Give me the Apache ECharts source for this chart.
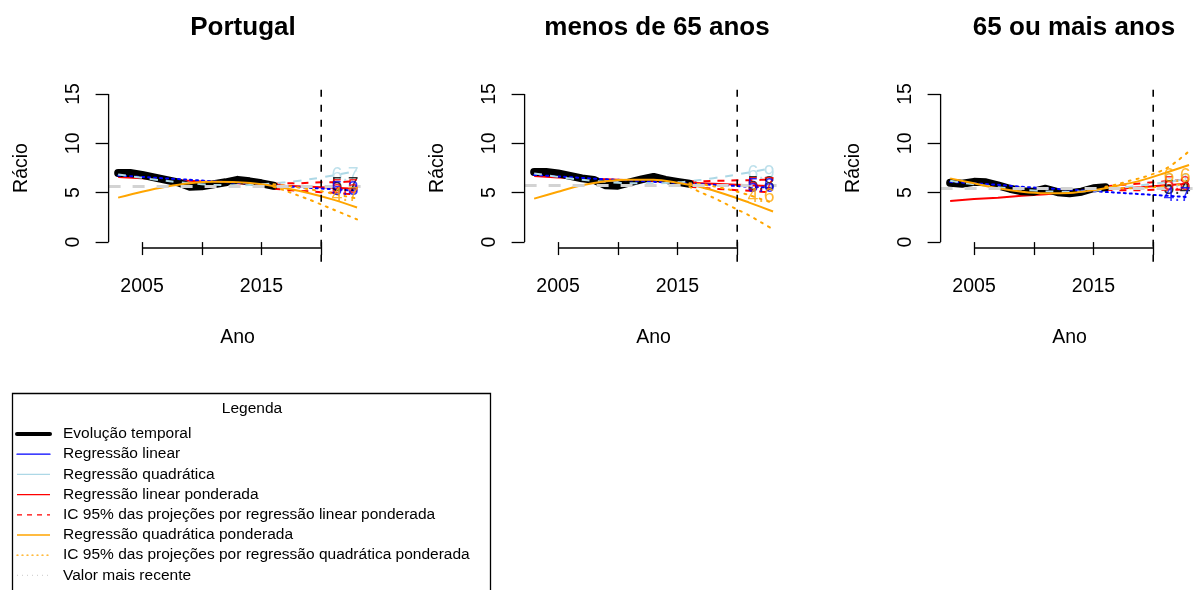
<!DOCTYPE html>
<html>
<head>
<meta charset="utf-8">
<title>Rácio</title>
<script src="https://cdn.jsdelivr.net/npm/echarts@6.0.0/dist/echarts.min.js"></script>
<style>
html, body { margin: 0; padding: 0; background: #fff; }
#echarts { width: 1193px; height: 590px; }
</style>
</head>
<body>
<div id="echarts"></div>
<script>
// valores
var titulos = ['Portugal', 'menos de 65 anos', '65 ou mais anos'];

var anos = [2003, 2004, 2005, 2006, 2007, 2008, 2009, 2010, 2011, 2012, 2013, 2014, 2015, 2016];
var evolPT     = [7.0, 7.0, 6.8, 6.55, 6.3, 6.05, 5.6, 5.65, 5.85, 6.05, 6.3, 6.15, 5.95, 5.7];
var evolMenos65 = [7.1, 7.1, 6.95, 6.7, 6.45, 6.3, 5.75, 5.7, 6.05, 6.35, 6.6, 6.3, 6.1, 5.9];
var evol65     = [6.0, 5.9, 6.1, 6.05, 5.75, 5.4, 5.15, 5.1, 5.4, 5.05, 4.95, 5.1, 5.45, 5.55];

// ajustes (a cada 2 anos)
var anosAjuste = [2003, 2005, 2007, 2009, 2011, 2013, 2015, 2017, 2019, 2021, 2023];
var linPT       = [6.75, 6.6, 6.45, 6.3, 6.15, 6.0, 5.85, 5.65, 5.5, 5.35, 5.2];
var quadPT      = [6.85, 6.5, 6.2, 5.95, 5.8, 5.75, 5.85, 6.05, 6.35, 6.75, 7.2];
var linPondPT   = [6.6, 6.45, 6.3, 6.2, 6.05, 5.95, 5.85, 5.7, 5.6, 5.5, 5.4];
var quadPondPT  = [4.5, 5.1, 5.6, 5.95, 6.1, 6.05, 5.85, 5.45, 4.95, 4.3, 3.5];

var linM65      = [6.8, 6.65, 6.5, 6.35, 6.25, 6.1, 6.0, 5.85, 5.75, 5.6, 5.5];
var quadM65     = [6.95, 6.6, 6.3, 6.1, 5.95, 5.95, 6.05, 6.3, 6.65, 7.05, 7.5];
var linPondM65  = [6.7, 6.55, 6.45, 6.35, 6.25, 6.15, 6.05, 5.95, 5.85, 5.75, 5.65];
var quadPondM65 = [4.4, 5.1, 5.75, 6.15, 6.3, 6.3, 6.0, 5.55, 4.85, 4.0, 3.1];

var lin65       = [6.1, 5.95, 5.8, 5.6, 5.45, 5.3, 5.15, 5.0, 4.85, 4.7, 4.55];
var quad65      = [6.2, 5.85, 5.55, 5.3, 5.15, 5.1, 5.2, 5.45, 5.75, 6.05, 6.45];
var linPond65   = [4.15, 4.35, 4.5, 4.7, 4.85, 5.05, 5.2, 5.4, 5.55, 5.75, 5.9];
var quadPond65  = [6.45, 5.95, 5.45, 5.1, 4.95, 4.97, 5.25, 5.7, 6.25, 7.0, 7.8];

// intervalos de confianca das projecoes
var anosProj = [2016, 2017, 2018, 2019, 2020, 2021, 2022, 2023];
var icLinSupPT  = [5.9, 5.95, 5.95, 6.0, 6.05, 6.05, 6.1, 6.15];
var icLinInfPT  = [5.4, 5.3, 5.2, 5.15, 5.05, 5.0, 4.9, 4.85];
var icQuadSupPT = [5.85, 5.7, 5.55, 5.35, 5.15, 4.9, 4.65, 4.4];
var icQuadInfPT = [5.6, 5.2, 4.75, 4.3, 3.8, 3.3, 2.8, 2.3];

var icLinSupM65  = [6.15, 6.15, 6.2, 6.2, 6.25, 6.25, 6.3, 6.3];
var icLinInfM65  = [5.6, 5.5, 5.4, 5.35, 5.25, 5.2, 5.1, 5.05];
var icQuadSupM65 = [5.95, 5.85, 5.65, 5.4, 5.1, 4.75, 4.35, 3.95];
var icQuadInfM65 = [5.6, 5.0, 4.5, 3.9, 3.3, 2.7, 2.0, 1.3];

var icLinSup65  = [5.65, 5.75, 5.85, 5.95, 6.05, 6.15, 6.25, 6.4];
var icLinInf65  = [5.3, 5.25, 5.25, 5.25, 5.3, 5.3, 5.3, 5.35];
var icQuadSup65 = [5.6, 5.85, 6.2, 6.5, 6.9, 7.4, 8.2, 9.2];
var icQuadInf65 = [5.5, 5.45, 5.45, 5.5, 5.55, 5.65, 5.8, 6.0];

var valorRecente = [5.7, 5.8, 5.4];

// rotulos das projecoes: quadratica, recente, linear ponderada, linear, quadratica ponderada
var rotulosPT  = [6.7, 5.7, 5.5, 5.3, 4.7];
var rotulosM65 = [6.9, 5.8, 5.7, 5.6, 4.6];
var rotulos65  = [6.1, 5.4, 5.8, 4.7, 6.6];

var xTicks = [2005, 2010, 2015, 2020];
var xTickLabels = [2005, 2015];
var yTicks = [0, 5, 10, 15];
var anoCorte = 2020;
var anoRotulo = 2022;

var nomes = ['Evolução temporal', 'Regressão linear', 'Regressão quadrática', 'Regressão linear ponderada',
    'IC 95% das projeções por regressão linear ponderada', 'Regressão quadrática ponderada',
    'IC 95% das projeções por regressão quadrática ponderada', 'Valor mais recente'];

// ---------------------------------------------------------------
var FONTE = '"Liberation Sans", Arial, Helvetica, sans-serif';
var X_MIN = 2002.2, X_MAX = 2023.8, Y_MIN = -0.6, Y_MAX = 15.6;
var CORTE_Y0 = -2.0, CORTE_Y1 = 16.2;
var gradeEsq = [108.6, 524.6, 940.6];
var gradeLarg = 258, gradeTopo = 88, gradeAlt = 160;
var centroTitulo = [243, 657, 1074];

var cores = {evol: '#000000', lin: '#0000FF', quad: '#ADD8E6', linPond: '#FF0000', quadPond: '#FFA500', recente: '#D3D3D3'};
var corRotulos = [cores.quad, cores.evol, cores.linPond, cores.lin, cores.quadPond];

var paineis = [
    {evol: evolPT, lin: linPT, quad: quadPT, linPond: linPondPT, quadPond: quadPondPT,
     icLinSup: icLinSupPT, icLinInf: icLinInfPT, icQuadSup: icQuadSupPT, icQuadInf: icQuadInfPT, rotulos: rotulosPT},
    {evol: evolMenos65, lin: linM65, quad: quadM65, linPond: linPondM65, quadPond: quadPondM65,
     icLinSup: icLinSupM65, icLinInf: icLinInfM65, icQuadSup: icQuadSupM65, icQuadInf: icQuadInfM65, rotulos: rotulosM65},
    {evol: evol65, lin: lin65, quad: quad65, linPond: linPond65, quadPond: quadPond65,
     icLinSup: icLinSup65, icLinInf: icLinInf65, icQuadSup: icQuadSup65, icQuadInf: icQuadInf65, rotulos: rotulos65}
];

function pares(xs, ys) {
    var r = [];
    for (var i = 0; i < xs.length; i++) {
        r.push([xs[i], ys[i]]);
    }
    return r;
}

function linha(nome, p, dados, estilo, z, semCorte, suave) {
    return {
        type: 'line', name: nome, xAxisIndex: p, yAxisIndex: p, data: dados,
        symbol: 'none', smooth: suave || false, lineStyle: estilo, z: z,
        itemStyle: {color: estilo.color},
        silent: true, clip: !semCorte, animation: false
    };
}

var grids = [], xAxes = [], yAxes = [], series = [], graficos = [];

for (var p = 0; p < 3; p++) {
    var d = paineis[p];
    grids.push({left: gradeEsq[p], top: gradeTopo, width: gradeLarg, height: gradeAlt, outerBoundsMode: 'none'});
    xAxes.push({
        gridIndex: p, type: 'value', min: X_MIN, max: X_MAX,
        axisLine: {show: false}, splitLine: {show: false},
        axisTick: {show: true, length: 13, customValues: xTicks, lineStyle: {color: '#000', width: 1.3}},
        axisLabel: {customValues: xTickLabels, margin: 29, fontSize: 19.5, color: '#000', fontFamily: FONTE,
            formatter: function (v) { return String(v); }},
        name: 'Ano', nameLocation: 'middle', nameGap: 80,
        nameTextStyle: {fontSize: 19.5, color: '#000', fontFamily: FONTE}
    });
    yAxes.push({
        gridIndex: p, type: 'value', min: Y_MIN, max: Y_MAX,
        axisLine: {show: false}, splitLine: {show: false},
        axisTick: {show: true, length: 13, customValues: yTicks, lineStyle: {color: '#000', width: 1.3}},
        axisLabel: {customValues: yTicks, rotate: 90, margin: 25, fontSize: 19.5, color: '#000', fontFamily: FONTE},
        name: 'Rácio', nameLocation: 'middle', nameGap: 77,
        nameTextStyle: {fontSize: 19.5, color: '#000', fontFamily: FONTE}
    });

    // regressao linear ponderada e IC (por baixo da evolucao)
    series.push(linha(nomes[3], p, pares(anosAjuste, d.linPond), {color: cores.linPond, width: 2}, 1));
    series.push(linha(nomes[4], p, pares(anosProj, d.icLinSup), {color: cores.linPond, width: 2, type: [7, 7]}, 1));
    series.push(linha(nomes[4], p, pares(anosProj, d.icLinInf), {color: cores.linPond, width: 2, type: [7, 7]}, 1));
    // evolucao temporal
    series.push(linha(nomes[0], p, pares(anos, d.evol), {color: cores.evol, width: 8, cap: 'round', join: 'round'}, 2));
    // restantes ajustes
    series.push(linha(nomes[1], p, pares(anosAjuste, d.lin), {color: cores.lin, width: 2, type: [2, 4], cap: 'round'}, 3));
    series.push(linha(nomes[2], p, pares(anosAjuste, d.quad), {color: cores.quad, width: 2, type: [8, 8]}, 3, false, 0.3));
    series.push(linha(nomes[5], p, pares(anosAjuste, d.quadPond), {color: cores.quadPond, width: 2}, 3, false, 0.3));
    series.push(linha(nomes[6], p, pares(anosProj, d.icQuadSup), {color: cores.quadPond, width: 2, type: [2, 6], cap: 'round'}, 3, false, 0.3));
    series.push(linha(nomes[6], p, pares(anosProj, d.icQuadInf), {color: cores.quadPond, width: 2, type: [2, 6], cap: 'round'}, 3, false, 0.3));
    // valor mais recente
    series.push({
        type: 'line', name: nomes[7], xAxisIndex: p, yAxisIndex: p, data: [], symbol: 'none',
        lineStyle: {color: cores.recente}, itemStyle: {color: cores.recente}, z: 3, silent: true, animation: false,
        markLine: {
            silent: true, symbol: 'none', label: {show: false}, animation: false,
            lineStyle: {color: cores.recente, width: 3, type: [12, 12]},
            data: [{yAxis: valorRecente[p]}]
        }
    });
    // linha de corte
    series.push(linha('', p, [[anoCorte, CORTE_Y0], [anoCorte, CORTE_Y1]], {color: '#000', width: 1.6, type: [7, 8]}, 4, true));
    // eixos estilo R
    series.push(linha('', p, [[X_MIN, yTicks[0]], [X_MIN, yTicks[yTicks.length - 1]]], {color: '#000', width: 1.3}, 5, true));
    series.push(linha('', p, [[xTicks[0], Y_MIN], [xTicks[xTicks.length - 1], Y_MIN]], {color: '#000', width: 1.3}, 5, true));
    // rotulos das projecoes
    var pts = [];
    for (var k = 0; k < d.rotulos.length; k++) {
        pts.push({value: [anoRotulo, d.rotulos[k]], label: {color: corRotulos[k]}});
    }
    series.push({
        type: 'scatter', xAxisIndex: p, yAxisIndex: p, symbolSize: 1, silent: true, animation: false, z: 6,
        itemStyle: {color: 'rgba(0,0,0,0)'}, clip: false,
        label: {show: true, position: 'inside', fontSize: 19.5, fontFamily: FONTE,
            formatter: function (pr) { return pr.value[1].toFixed(1); }},
        data: pts
    });

    graficos.push({
        type: 'text', x: centroTitulo[p], y: 28,
        style: {text: titulos[p], font: 'bold 26px ' + FONTE, fill: '#000', align: 'center', verticalAlign: 'middle'}
    });
}

var estilosLegenda = [
    {color: '#000', width: 4, type: 'solid'},
    {color: cores.lin, width: 1.3, type: 'solid'},
    {color: cores.quad, width: 1.3, type: 'solid'},
    {color: cores.linPond, width: 1.3, type: 'solid'},
    {color: cores.linPond, width: 1.3, type: [5, 5]},
    {color: cores.quadPond, width: 1.3, type: 'solid'},
    {color: cores.quadPond, width: 1.3, type: [1, 4]},
    {color: cores.recente, width: 1.3, type: [1, 4]}
];

graficos.push({
    type: 'rect', shape: {x: 12.5, y: 393.5, width: 478, height: 230},
    style: {fill: 'none', stroke: '#000', lineWidth: 1.3}
});
graficos.push({
    type: 'text', x: 252, y: 409,
    style: {text: 'Legenda', font: '15.5px ' + FONTE, fill: '#000', align: 'center', verticalAlign: 'middle'}
});

var myChart = echarts.init(document.getElementById('echarts'));
var option = {
    animation: false,
    backgroundColor: '#ffffff',
    grid: grids,
    xAxis: xAxes,
    yAxis: yAxes,
    legend: {
        orient: 'vertical', left: 15, top: 426, padding: 0,
        itemWidth: 33, itemHeight: 14, itemGap: 4.2, selectedMode: false,
        textStyle: {fontSize: 15.5, color: '#000', fontFamily: FONTE, padding: [0, 0, 0, 8]},
        data: nomes.map(function (n, i) {
            return {name: n, lineStyle: estilosLegenda[i], itemStyle: {opacity: 0}};
        })
    },
    graphic: graficos,
    series: series
};
myChart.setOption(option);
</script>
</body>
</html>
